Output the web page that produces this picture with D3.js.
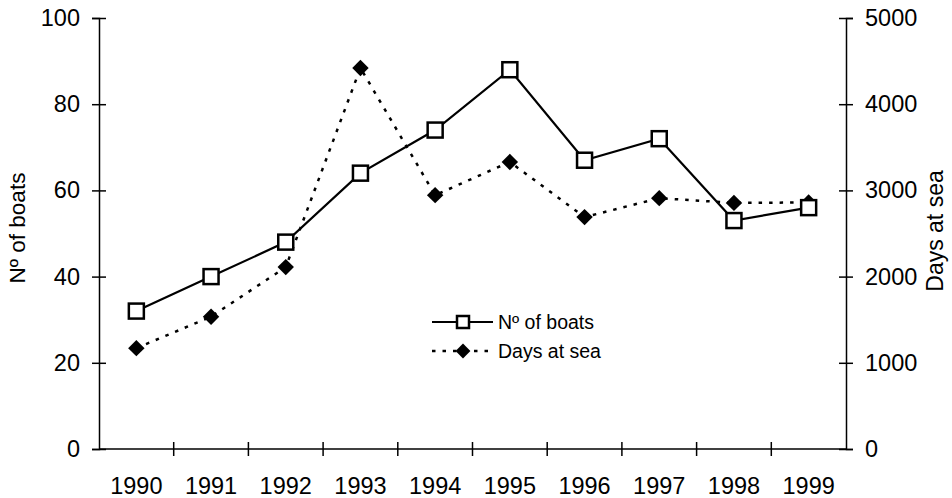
<!DOCTYPE html>
<html>
<head>
<meta charset="utf-8">
<script src="https://cdn.jsdelivr.net/npm/d3@7"></script>
<style>
  body { margin: 0; background: #fff; }
  svg { display: block; font-family: "Liberation Sans", Arial, sans-serif; }
</style>
</head>
<body>
<div id="chart"></div>
<script>
// values
var years = [1990, 1991, 1992, 1993, 1994, 1995, 1996, 1997, 1998, 1999];
var boats = [32, 40, 48, 64, 74, 88, 67, 72, 53, 56];
var daysAtSea = [1170, 1535, 2110, 4420, 2945, 3330, 2690, 2910, 2855, 2860];
var boatTicks = [0, 20, 40, 60, 80, 100];
var dayTicks = [0, 1000, 2000, 3000, 4000, 5000];

var width = 952, height = 498;
var plotLeft = 99, plotRight = 846, plotTop = 18, plotBottom = 449;

var svg = d3.select("#chart").append("svg")
    .attr("width", width)
    .attr("height", height);

var x = d3.scaleBand().domain(years).range([plotLeft, plotRight]).padding(0);
var yL = d3.scaleLinear().domain([0, 100]).range([plotBottom, plotTop]);
var yR = d3.scaleLinear().domain([0, 5000]).range([plotBottom, plotTop]);
var cx = function(d) { return x(d) + x.bandwidth() / 2; };

// left axis
var axL = svg.append("g")
    .attr("transform", "translate(" + plotLeft + ",0)")
    .call(d3.axisLeft(yL).tickValues(boatTicks).tickSize(7).tickPadding(12));
axL.selectAll(".tick line").attr("x1", 7);

// right axis
var axR = svg.append("g")
    .attr("transform", "translate(" + plotRight + ",0)")
    .call(d3.axisRight(yR).tickValues(dayTicks).tickFormat(d3.format("d"))
        .tickSize(7).tickPadding(12));
axR.selectAll(".tick line").attr("x1", -7);

// bottom axis: labels centred in bands, ticks at band edges
var axB = svg.append("g")
    .attr("transform", "translate(0," + plotBottom + ")")
    .call(d3.axisBottom(x).tickSize(0).tickPadding(28));
axB.selectAll(".domain").attr("d", "M" + plotLeft + ",0H" + plotRight);
axB.selectAll(".edge")
    .data(years.slice(1))
    .enter().append("line")
    .attr("class", "edge")
    .attr("x1", function(d) { return x(d); })
    .attr("x2", function(d) { return x(d); })
    .attr("y1", -7).attr("y2", 7)
    .attr("stroke", "#000")
    .attr("stroke-width", 1.5);

svg.selectAll(".domain").attr("stroke", "#000").attr("stroke-width", 1.5);
svg.selectAll(".tick line").attr("stroke", "#000").attr("stroke-width", 1.5);
svg.selectAll("g").attr("font-size", null).attr("font-family", null);
svg.selectAll(".tick text")
    .attr("font-size", 23.5)
    .attr("fill", "#000");

// axis titles
svg.append("text")
    .attr("transform", "translate(25,228) rotate(-90)")
    .attr("text-anchor", "middle")
    .attr("font-size", 22.5)
    .text("Nº of boats");
svg.append("text")
    .attr("transform", "translate(943,231) rotate(-90)")
    .attr("text-anchor", "middle")
    .attr("font-size", 23)
    .text("Days at sea");

// days at sea (dotted, diamonds)
var lineR = d3.line()
    .x(function(d, i) { return cx(years[i]); })
    .y(function(d) { return yR(d); });
svg.append("path")
    .datum(daysAtSea)
    .attr("d", lineR)
    .attr("fill", "none")
    .attr("stroke", "#000")
    .attr("stroke-width", 2.5)
    .attr("stroke-dasharray", "3.5,7");

// boats (solid, squares)
var lineL = d3.line()
    .x(function(d, i) { return cx(years[i]); })
    .y(function(d) { return yL(d); });
svg.append("path")
    .datum(boats)
    .attr("d", lineL)
    .attr("fill", "none")
    .attr("stroke", "#000")
    .attr("stroke-width", 2.2);

var diamond = d3.symbol().type(d3.symbolSquare).size(135);
svg.selectAll(".dmd")
    .data(daysAtSea)
    .enter().append("path")
    .attr("class", "dmd")
    .attr("d", diamond)
    .attr("transform", function(d, i) {
        return "translate(" + cx(years[i]) + "," + yR(d) + ") rotate(45)";
    })
    .attr("fill", "#000");

svg.selectAll(".sq")
    .data(boats)
    .enter().append("rect")
    .attr("class", "sq")
    .attr("x", function(d, i) { return cx(years[i]) - 7.5; })
    .attr("y", function(d) { return yL(d) - 7.5; })
    .attr("width", 15)
    .attr("height", 15)
    .attr("fill", "#fff")
    .attr("stroke", "#000")
    .attr("stroke-width", 2.5);

// legend
var lg = svg.append("g").attr("transform", "translate(432,322)");
lg.append("line").attr("x1", 0).attr("x2", 61).attr("y1", 0).attr("y2", 0)
    .attr("stroke", "#000").attr("stroke-width", 2);
lg.append("rect").attr("x", 25).attr("y", -6).attr("width", 12).attr("height", 12)
    .attr("fill", "#fff").attr("stroke", "#000").attr("stroke-width", 2.5);
lg.append("text").attr("x", 66).attr("y", 7).attr("font-size", 19.5).text("Nº of boats");

lg.append("line").attr("x1", 0).attr("x2", 61).attr("y1", 29).attr("y2", 29)
    .attr("stroke", "#000").attr("stroke-width", 2.5).attr("stroke-dasharray", "3.5,7");
lg.append("path").attr("d", d3.symbol().type(d3.symbolSquare).size(110))
    .attr("transform", "translate(31,29) rotate(45)")
    .attr("fill", "#000");
lg.append("text").attr("x", 66).attr("y", 36).attr("font-size", 19.5).text("Days at sea");
</script>
</body>
</html>
